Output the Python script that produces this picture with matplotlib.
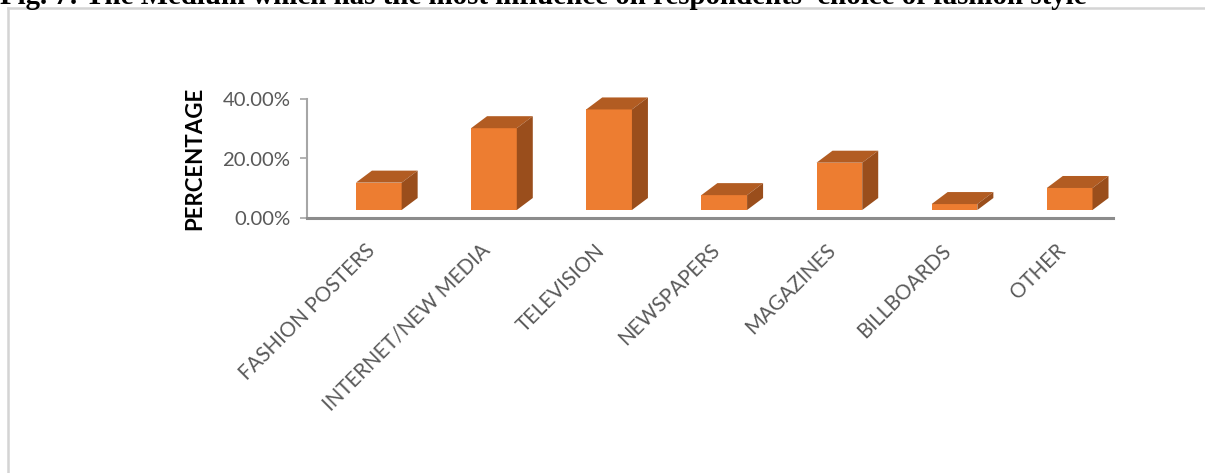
import matplotlib.pyplot as plt
from matplotlib.patches import Polygon, Rectangle
from matplotlib.lines import Line2D

categories = ["FASHION POSTERS", "INTERNET/NEW MEDIA", "TELEVISION", "NEWSPAPERS",
              "MAGAZINES", "BILLBOARDS", "OTHER"]
values = [9.2, 27.5, 33.8, 5.0, 15.9, 2.0, 7.4]
yticks = [0, 20, 40]
ytick_labels = ["0.00%", "20.00%", "40.00%"]
title = "Fig. 7: The Medium which has the most influence on respondents' choice of fashion style"

front_c = "#ED7D31"
top_c = "#B25C22"
side_c = "#9A4E1C"

W, H = 1205, 473
fig = plt.figure(figsize=(W / 100, H / 100), dpi=100)

# chart border (left and top visible)
fig.add_artist(Line2D([8 / W, 8 / W], [0, 1 - 8 / H], color="#D4D4D4", lw=1.8))
fig.add_artist(Line2D([8 / W, 1], [1 - 8 / H, 1 - 8 / H], color="#D4D4D4", lw=1.8))

fig.text(0.0, 1 - 3.5 / H, title, ha="left", va="baseline", fontsize=20.8,
         family="Liberation Serif", weight="bold", color="black")

ax = fig.add_axes([307 / W, (H - 218) / H, (1113 - 307) / W, 119 / H])
ax.set_xlim(0, 7)
ax.set_ylim(0, 40)

# pixel -> data unit conversion for the fake 3D depth
px_x = 7 / (1113 - 307)
px_y = 40 / 119
floor = 8 * px_y
dx, dy = 16 * px_x, 12 * px_y
bw = 0.397

for i, v in enumerate(values):
    x0 = i + 0.425
    x1 = x0 + bw
    y0 = floor
    y1 = floor + v
    ax.add_patch(Rectangle((x0, y0), bw, v, facecolor=front_c, edgecolor="none", clip_on=False, zorder=3))
    ax.add_patch(Polygon([(x0, y1), (x1, y1), (x1 + dx, y1 + dy), (x0 + dx, y1 + dy)],
                         closed=True, facecolor=top_c, edgecolor="none", clip_on=False, zorder=3))
    ax.add_patch(Polygon([(x1, y0), (x1 + dx, y0 + dy), (x1 + dx, y1 + dy), (x1, y1)],
                         closed=True, facecolor=side_c, edgecolor="none", clip_on=False, zorder=3))

for s in ["top", "right"]:
    ax.spines[s].set_visible(False)
ax.spines["left"].set_color("#A6A6A6")
ax.spines["left"].set_linewidth(1.5)
ax.spines["bottom"].set_color("#8C8C8C")
ax.spines["bottom"].set_linewidth(2.2)

ax.set_yticks(yticks)
ax.set_yticklabels(ytick_labels, family="Lato", fontsize=14.6, color="#595959")
ax.tick_params(axis="y", length=5, width=1.2, color="#A6A6A6", pad=7)

ax.set_xticks([i + 0.5 for i in range(len(categories))])
ax.set_xticklabels(categories, rotation=45, ha="right", va="top", rotation_mode="anchor",
                   family="Lato", fontsize=14.8, color="#595959")
ax.tick_params(axis="x", length=0, pad=16)

ax.set_ylabel("PERCENTAGE", family="Lato", weight="bold", fontsize=16, color="black", labelpad=12)

fig.savefig("out.png", dpi=100)
